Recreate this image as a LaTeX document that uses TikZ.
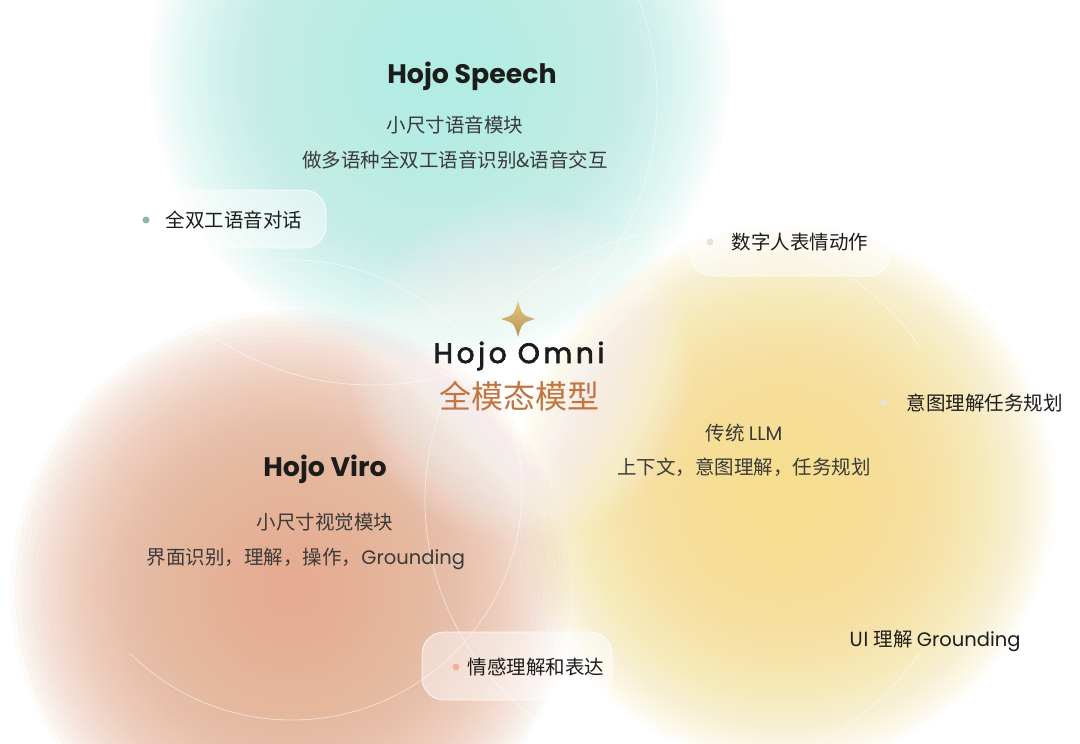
\documentclass[tikz,border=0pt]{standalone}
\usepackage{fontspec}
\setmainfont{Poppins}
\newfontfamily\cjk{Noto Sans CJK SC}
\newfontfamily\pop{Poppins}
\newfontfamily\popsp[LetterSpace=13,FakeBold=2.6]{Poppins}
\definecolor{tealb}{RGB}{178,236,227}
\definecolor{orangeb}{RGB}{229,172,140}
\definecolor{yellowb}{RGB}{246,222,138}
\definecolor{txt}{RGB}{58,58,58}
\definecolor{dark}{RGB}{28,28,28}
\definecolor{omni}{RGB}{196,116,64}
\definecolor{goldA}{RGB}{224,198,132}
\definecolor{goldB}{RGB}{186,148,80}
\definecolor{dotteal}{RGB}{140,184,170}
\definecolor{dotsalmon}{RGB}{240,176,156}
\definecolor{dotpale}{RGB}{232,226,212}
\tikzset{
  title/.style={font=\pop\bfseries\fontsize{26.8}{32}\selectfont, text=dark},
  body/.style={font=\cjk\fontsize{19.5}{24}\selectfont, text=txt},
  pilltext/.style={font=\cjk\fontsize{19.5}{24}\selectfont, text=dark, anchor=west},
  pill/.style={fill=white, fill opacity=0.45, draw=white, draw opacity=0.85, line width=0.8pt, rounded corners=22pt},
  outline/.style={draw=white, line width=0.75pt, opacity=0.55},
}
\newcommand{\myblob}[5]{% style, x, y, R, n
  \foreach \k in {1,...,#5} {
    \pgfmathsetmacro{\rr}{#4*(\k/#5)^0.75}
    \fill[#1] (#2,#3) circle (\rr pt);
  }
}
\begin{document}
\begin{tikzpicture}[x=1pt,y=-1pt]
\useasboundingbox (0,0) rectangle (1080,744);
\clip (0,0) rectangle (1080,744);
\fill[white] (0,0) rectangle (1080,744);
% blobs (stacked translucent discs)
\myblob{yellowb, opacity=0.055}{785}{495}{270}{40}
\myblob{orangeb, opacity=0.055}{290}{590}{280}{40}
\myblob{tealb, opacity=0.055}{440}{70}{290}{40}
\myblob{white, opacity=0.05}{522}{370}{170}{30}
% outlines (only partly visible)
\draw[outline] (372,100) circle (285pt);
\begin{scope}
  \clip (130,320) rectangle (1080,744) (280,0) rectangle (1080,320);
  \draw[outline] (292,490) circle (230pt);
\end{scope}
\begin{scope}
  \clip (0,0) rectangle (920,744);
  \draw[outline] (696,500) circle (271pt);
\end{scope}
% pills
\draw[pill] (128,190) rectangle (326,248);
\draw[pill] (690,208) rectangle (890,276);
\draw[pill] (422,632) rectangle (612,700);
% dots
\fill[dotteal] (146,220) circle (3.5pt);
\fill[dotpale] (710,242) circle (3.5pt);
\fill[dotsalmon] (456,667) circle (3.5pt);
\fill[dotpale] (884,403) circle (3.5pt);
% star
\shade[top color=goldA, bottom color=goldB] (518,301) .. controls (522,315) .. (535,319) .. controls (522,323) .. (518,337) .. controls (514,323) .. (501,319) .. controls (514,315) .. cycle;
% center
\node[font=\popsp\fontsize{28}{33}\selectfont, text=dark] (omni) at (519,356) {Hojo Omni};
\node[font=\cjk\fontsize{32}{38}\selectfont, text=omni] (omnicn) at (519,396) {全模态模型};
% speech
\node[title] (speech) at (472,76) {Hojo Speech};
\node[body] (sp1) at (455,125) {小尺寸语音模块};
\node[body] (sp2) at (455,160) {做多语种全双工语音识别\&语音交互};
% viro
\node[title] (viro) at (325,469) {Hojo Viro};
\node[body] (vi1) at (325,522) {小尺寸视觉模块};
\node[body] (vi2) at (306,559) {界面识别，理解，操作，{\pop Grounding}};
% llm
\node[body] (ll1) at (744,433) {传统 {\pop LLM}};
\node[body] (ll2) at (744,467) {上下文，意图理解，任务规划};
% pill texts
\node[pilltext] (p1) at (162,220) {全双工语音对话};
\node[pilltext] (p2) at (728,242) {数字人表情动作};
\node[pilltext] (p3) at (464,667) {情感理解和表达};
\node[pilltext] (p4) at (903,403) {意图理解任务规划};
\node[body, text=dark] (ui) at (935,641) {UI 理解 {\pop Grounding}};
\end{tikzpicture}
\end{document}
